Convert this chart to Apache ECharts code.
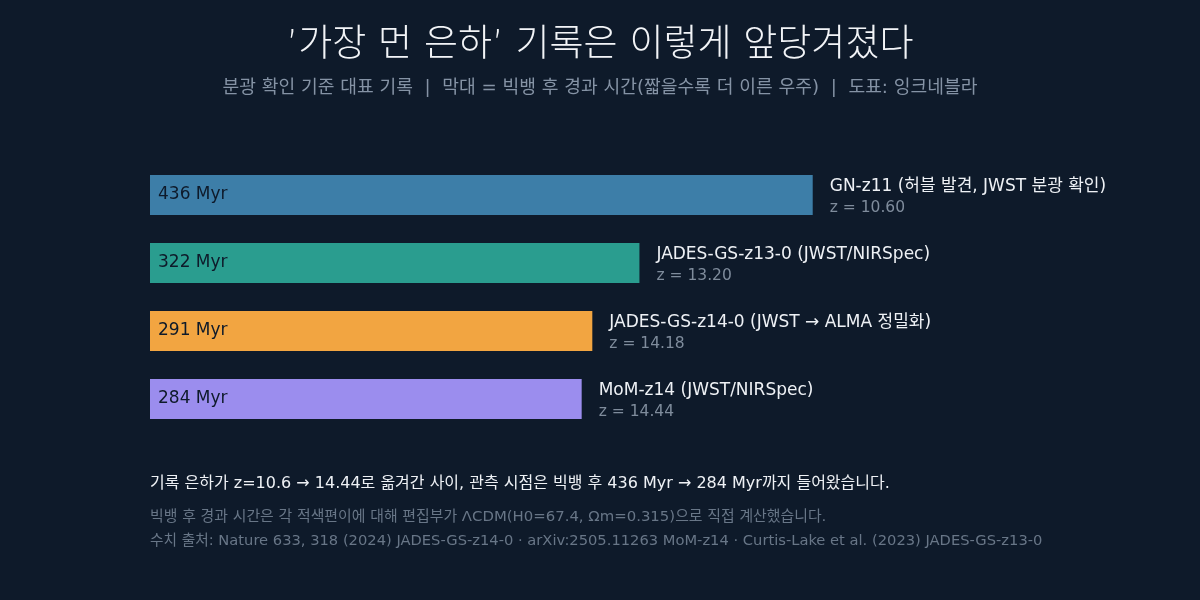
<!DOCTYPE html>
<html>
<head>
<meta charset="utf-8">
<script src="https://cdn.jsdelivr.net/npm/echarts@6/dist/echarts.min.js"></script>
<style>
  html, body { margin: 0; padding: 0; background: #0e1a2a; }
  #chart { width: 1200px; height: 600px; }
</style>
</head>
<body>
<div id="chart"></div>
<script>
// 기록 은하 (위에서 아래 순서)
var galaxies = ['GN-z11 (허블 발견, JWST 분광 확인)', 'JADES-GS-z13-0 (JWST/NIRSpec)', 'JADES-GS-z14-0 (JWST → ALMA 정밀화)', 'MoM-z14 (JWST/NIRSpec)'];
var ageMyr = [436, 322, 291, 284];
var redshift = ['10.60', '13.20', '14.18', '14.44'];
var barColors = ['#3d7ea8', '#2a9d8f', '#f2a541', '#9b8dee'];

var FONT = '"DejaVu Sans", "Noto Sans CJK KR", sans-serif';

var chart = echarts.init(document.getElementById('chart'));

var seriesData = ageMyr.map(function (v, i) {
    return { value: v, itemStyle: { color: barColors[i] } };
});

chart.setOption({
    backgroundColor: '#0e1a2a',
    textStyle: { fontFamily: FONT },
    title: {
        text: '’가장 먼 은하’ 기록은 이렇게 앞당겨졌다',
        subtext: '분광 확인 기준 대표 기록  |  막대 = 빅뱅 후 경과 시간(짧을수록 더 이른 우주)  |  도표: 잉크네블라',
        left: 'center',
        top: 23,
        itemGap: 14,
        textStyle: { color: '#f2f4f7', fontSize: 37, fontWeight: 300, fontFamily: FONT },
        subtextStyle: { color: '#8593a5', fontSize: 18.2, fontWeight: 'normal', fontFamily: FONT }
    },
    grid: { left: 150, top: 161, width: 760, height: 272 },
    xAxis: {
        type: 'value', min: 0, max: 500,
        show: false
    },
    yAxis: {
        type: 'category',
        data: galaxies,
        inverse: true,
        show: false
    },
    series: [
        {
            type: 'bar',
            data: seriesData,
            barWidth: 40,
            label: {
                show: true,
                position: 'insideLeft',
                distance: 8,
                color: '#0e1a2a',
                fontSize: 17,
                fontFamily: FONT,
                formatter: function (p) { return p.value + ' Myr'; }
            },
            silent: true
        },
        {
            // 오른쪽 이름 + 적색편이 라벨
            type: 'bar',
            data: ageMyr,
            barWidth: 40,
            barGap: '-100%',
            itemStyle: { color: 'transparent' },
            label: {
                show: true,
                position: 'right',
                distance: 17,
                align: 'left',
                offset: [0, 2],
                formatter: function (p) {
                    return '{n|' + galaxies[p.dataIndex] + '}\n{z|z = ' + redshift[p.dataIndex] + '}';
                },
                rich: {
                    n: { color: '#eef1f5', fontSize: 17, lineHeight: 21, fontFamily: FONT },
                    z: { color: '#7f8c9c', fontSize: 15.5, lineHeight: 20, fontFamily: FONT }
                }
            },
            silent: true
        }
    ],
    graphic: [
        {
            type: 'text', left: 150, top: 476,
            style: {
                text: '기록 은하가 z=10.6 → 14.44로 옮겨간 사이, 관측 시점은 빅뱅 후 436 Myr → 284 Myr까지 들어왔습니다.',
                fill: '#eef1f5', fontSize: 16, fontFamily: FONT
            }
        },
        {
            type: 'text', left: 150, top: 510,
            style: {
                text: '빅뱅 후 경과 시간은 각 적색편이에 대해 편집부가 ΛCDM(H0=67.4, Ωm=0.315)으로 직접 계산했습니다.',
                fill: '#687687', fontSize: 14.9, fontFamily: FONT
            }
        },
        {
            type: 'text', left: 150, top: 534,
            style: {
                text: '수치 출처: Nature 633, 318 (2024) JADES-GS-z14-0 · arXiv:2505.11263 MoM-z14 · Curtis-Lake et al. (2023) JADES-GS-z13-0',
                fill: '#687687', fontSize: 14.7, fontFamily: FONT
            }
        }
    ]
});
</script>
</body>
</html>
